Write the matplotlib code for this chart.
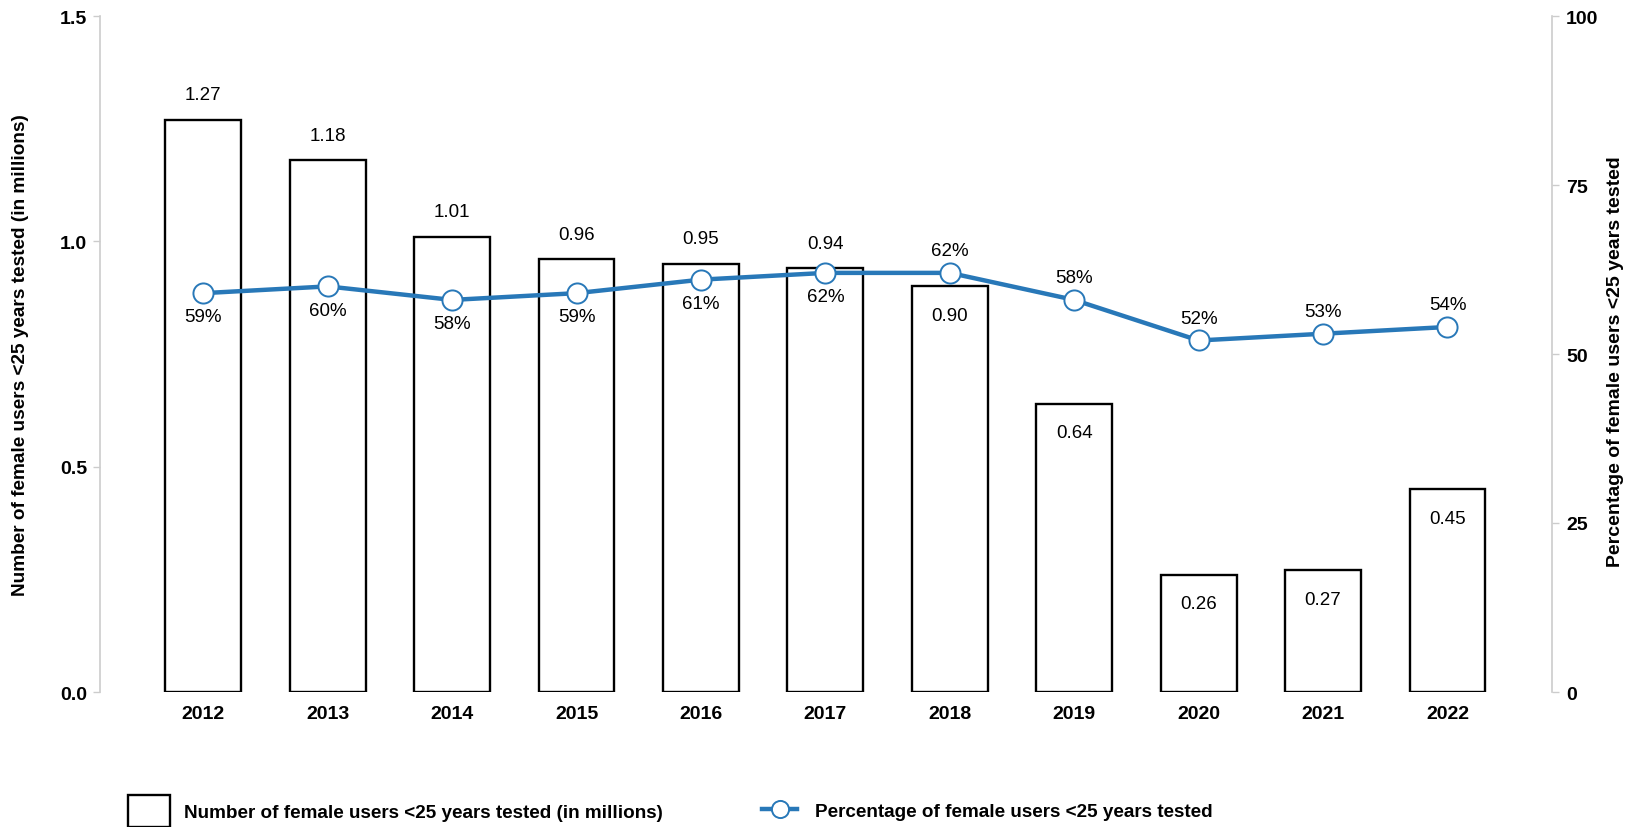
import matplotlib
matplotlib.use("Agg")
import matplotlib.pyplot as plt
import numpy as np

plt.rcParams["font.family"] = ["Liberation Sans", "DejaVu Sans"]

years = ["2012", "2013", "2014", "2015", "2016", "2017", "2018", "2019", "2020", "2021", "2022"]
tested_millions = [1.27, 1.18, 1.01, 0.96, 0.95, 0.94, 0.90, 0.64, 0.26, 0.27, 0.45]
tested_pct = [59, 60, 58, 59, 61, 62, 62, 58, 52, 53, 54]

bar_label = "Number of female users <25 years tested (in millions)"
line_label = "Percentage of female users <25 years tested"

line_color = "#2878b8"
axis_grey = "#cccccc"

fig = plt.figure(figsize=(16.29, 8.28), dpi=100)
ax = fig.add_axes([100 / 1629, 1 - 693 / 828, 1452 / 1629, 676 / 828])
ax2 = ax.twinx()

x = np.arange(len(years))
bars = ax.bar(x, tested_millions, width=0.61, facecolor="white",
              edgecolor="black", linewidth=1.7, label=bar_label, zorder=2)

line, = ax2.plot(x, tested_pct, color=line_color, linewidth=3.2,
                 marker="o", markersize=14.5, markerfacecolor="white",
                 markeredgecolor=line_color, markeredgewidth=1.4,
                 label=line_label, zorder=3)

ax.set_xlim(-0.83, len(years) - 1 + 0.84)
ax.set_ylim(0, 1.5)
ax2.set_ylim(0, 100)
ax.set_yticks([0.0, 0.5, 1.0, 1.5])
ax.set_yticklabels(["0.0", "0.5", "1.0", "1.5"])
ax2.set_yticks([0, 25, 50, 75, 100])
ax.set_xticks(x)
ax.set_xticklabels(years)

# bring the line above the bars
ax.set_zorder(1)
ax2.set_zorder(2)
ax.patch.set_visible(False)

for a in (ax, ax2):
    for side in ("top", "bottom"):
        a.spines[side].set_visible(False)
ax.spines["right"].set_visible(False)
ax2.spines["left"].set_visible(False)
ax.spines["left"].set_color(axis_grey)
ax.spines["left"].set_linewidth(1.2)
ax2.spines["right"].set_color(axis_grey)
ax2.spines["right"].set_linewidth(1.2)

ax.tick_params(axis="y", direction="out", length=5, width=1, color=axis_grey,
               pad=4.3, labelsize=14)
ax2.tick_params(axis="y", direction="out", length=5, width=1, color=axis_grey,
                pad=5, labelsize=14)
ax.tick_params(axis="x", length=0, pad=9.5, labelsize=14)
for lbl in ax.get_xticklabels() + ax.get_yticklabels() + ax2.get_yticklabels():
    lbl.set_fontweight("bold")

ax.set_ylabel(bar_label, fontsize=13.7, fontweight="bold")
ax.yaxis.set_label_coords(-0.049, 0.5)
ax2.set_ylabel(line_label, fontsize=14, fontweight="bold")
ax2.yaxis.set_label_coords(1.038, 0.49)

# value labels: bars above their top through 2017, inside afterwards;
# percentages below their marker through 2017, above afterwards
for i, (yr, v, p) in enumerate(zip(years, tested_millions, tested_pct)):
    early = int(yr) <= 2017
    ax.annotate(f"{v:.2f}", (i, v), xytext=(0, 18 if early else -21),
                textcoords="offset points", ha="center", va="center",
                fontsize=13.5, zorder=4)
    ax2.annotate(f"{p}%", (i, p), xytext=(0, -17 if early else 16),
                 textcoords="offset points", ha="center", va="center",
                 fontsize=13.5, zorder=5)

fs_leg = 13.6
em = fs_leg * 100 / 72
fig.legend(handles=[bars], labels=[bar_label], loc="center left",
           bbox_to_anchor=(128 / 1629, 1 - 812 / 828), frameon=False,
           handlelength=42 / em, handleheight=42 / em,
           handletextpad=14 / em, borderpad=0, borderaxespad=0,
           prop={"weight": "bold", "size": fs_leg})
fig.legend(handles=[line], labels=[line_label], loc="center left",
           bbox_to_anchor=(762 / 1629, 1 - 812 / 828), frameon=False,
           handlelength=35 / em, handletextpad=18 / em, borderpad=0,
           borderaxespad=0, markerscale=0.85,
           prop={"weight": "bold", "size": fs_leg})

fig.savefig("out.png", dpi=100)
